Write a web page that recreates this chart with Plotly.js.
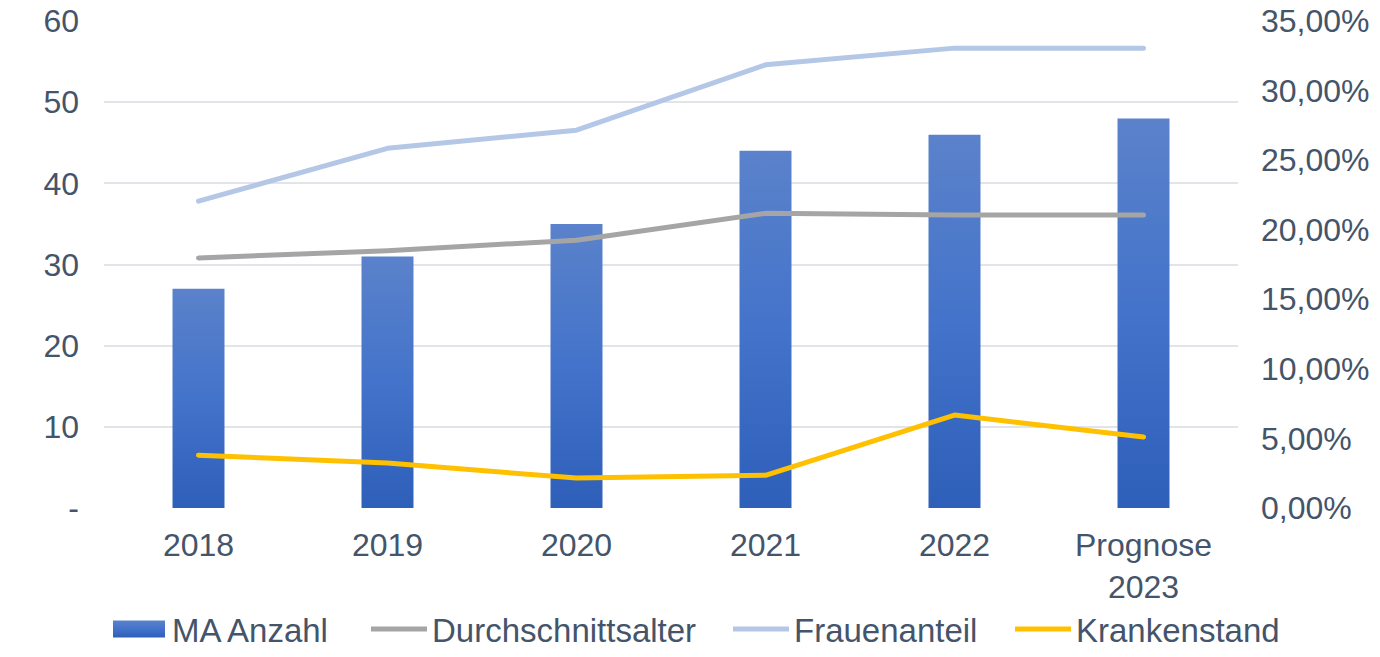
<!DOCTYPE html>
<html>
<head>
<meta charset="utf-8">
<script src="https://cdn.plot.ly/plotly-3.0.1.min.js"></script>
<style>html,body{margin:0;padding:0;background:#fff;}#chart{width:1380px;height:657px;}</style>
</head>
<body>
<div id="chart"></div>
<script>
const categories = ["2018", "2019", "2020", "2021", "2022", "Prognose<br>2023"];
const maAnzahl = [27, 31, 35, 44, 46, 48];
const durchschnittsalter = [30.8, 31.7, 33.0, 36.3, 36.1, 36.1];
const frauenanteil = [0.2205, 0.2585, 0.2715, 0.3185, 0.3305, 0.3305];
const krankenstand = [0.038, 0.0323, 0.0215, 0.0235, 0.0668, 0.051];
const leftTicks = [0, 10, 20, 30, 40, 50, 60];
const leftTickText = ["-", "10", "20", "30", "40", "50", "60"];

const txt = '#44546A';
const font = {family: 'Liberation Sans, Arial, sans-serif', size: 32, color: txt};
const legFont = {family: 'Liberation Sans, Arial, sans-serif', size: 33, color: txt};

const traces = [
  {type: 'bar', name: 'MA Anzahl', x: categories, y: maAnzahl, yaxis: 'y', legend: 'legend',
   width: 0.275, marker: {color: '#4472C4'}},
  {type: 'scatter', mode: 'lines', name: 'Durchschnittsalter', x: categories, y: durchschnittsalter,
   yaxis: 'y', legend: 'legend2', line: {color: '#A5A5A5', width: 5}},
  {type: 'scatter', mode: 'lines', name: 'Frauenanteil', x: categories, y: frauenanteil,
   yaxis: 'y2', legend: 'legend3', line: {color: '#B4C7E7', width: 5}},
  {type: 'scatter', mode: 'lines', name: 'Krankenstand', x: categories, y: krankenstand,
   yaxis: 'y2', legend: 'legend4', line: {color: '#FFC000', width: 5}}
];

function leg(textStart) {
  return {orientation: 'h', x: (textStart - 67) / 1380, xanchor: 'left', xref: 'container',
          y: -8 / 657, yanchor: 'bottom', yref: 'container',
          font: legFont, itemwidth: 56, bgcolor: 'rgba(0,0,0,0)', borderwidth: 0};
}

const layout = {
  width: 1380, height: 657,
  margin: {l: 104, r: 142, t: 21, b: 149, autoexpand: false},
  paper_bgcolor: '#fff', plot_bgcolor: '#fff',
  font: font,
  separators: ',.',
  showlegend: true,
  legend: leg(173), legend2: leg(433), legend3: leg(795), legend4: leg(1077),
  xaxis: {type: 'category', showgrid: false, zeroline: false, showline: false,
          tickfont: font, ticks: '', ticklabelstandoff: 15, automargin: false},
  yaxis: {range: [0, 60], tickvals: leftTicks, ticktext: leftTickText,
          showgrid: true, gridcolor: '#E1E5EA', gridwidth: 2, zeroline: false, showline: false,
          tickfont: font, ticks: '', ticklabelstandoff: 24, automargin: false},
  yaxis2: {range: [0, 0.35], dtick: 0.05, tick0: 0, tickformat: '.2%', overlaying: 'y', side: 'right',
           showgrid: false, zeroline: false, showline: false, tickfont: font, ticks: '',
           ticklabelstandoff: 22, automargin: false},
  bargap: 0.725
};

function addGradient(gd) {
  const svg = gd.querySelector('svg.main-svg');
  const ns = 'http://www.w3.org/2000/svg';
  let defs = svg.querySelector('defs');
  if (!defs) { defs = document.createElementNS(ns, 'defs'); svg.insertBefore(defs, svg.firstChild); }
  const lg = document.createElementNS(ns, 'linearGradient');
  lg.setAttribute('id', 'barGrad');
  lg.setAttribute('x1', '0'); lg.setAttribute('y1', '0');
  lg.setAttribute('x2', '0'); lg.setAttribute('y2', '1');
  [['0%', '#5B82CB'], ['50%', '#4373CA'], ['100%', '#2E5FB9']].forEach(([o, c]) => {
    const s = document.createElementNS(ns, 'stop');
    s.setAttribute('offset', o); s.setAttribute('stop-color', c);
    lg.appendChild(s);
  });
  defs.appendChild(lg);
  gd.querySelectorAll('.barlayer .bars path').forEach(p => { p.style.fill = 'url(#barGrad)'; });
  gd.querySelectorAll('.legend .legendpoints path').forEach(p => {
    p.setAttribute('d', 'M26,8.5H-26V-8.5H26Z');
    p.style.fill = 'url(#barGrad)';
    p.style.stroke = 'none';
  });
  gd.querySelectorAll('.legend .legendlines path').forEach(p => { p.style.strokeLinecap = 'round'; });
  gd.querySelectorAll('.scatterlayer .js-line').forEach(p => {
    p.style.strokeLinecap = 'round';
    p.style.strokeLinejoin = 'round';
  });
}

Plotly.newPlot('chart', traces, layout, {displayModeBar: false, staticPlot: true}).then(addGradient);
</script>
</body>
</html>
